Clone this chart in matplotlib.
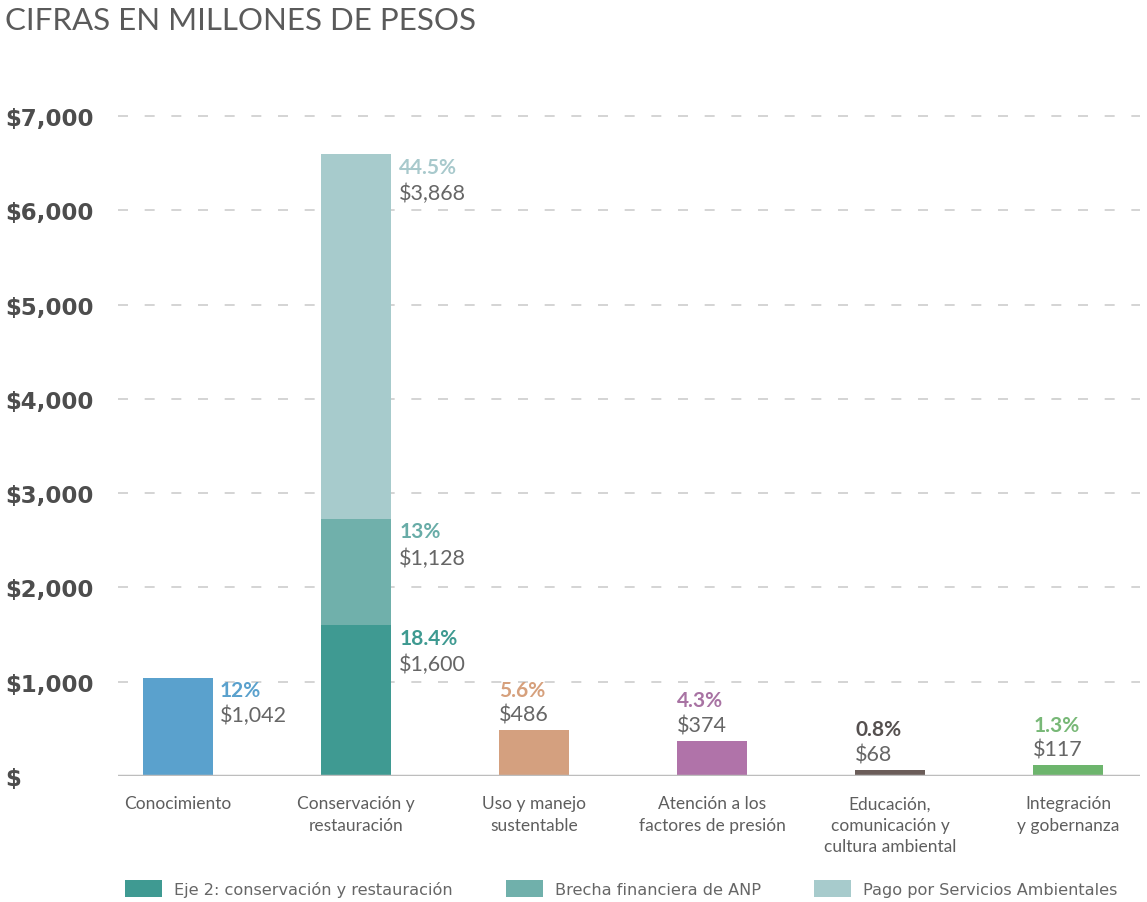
import matplotlib
matplotlib.use("Agg")
import matplotlib.pyplot as plt
import numpy as np

plt.rcParams['font.family'] = ['Lato', 'DejaVu Sans']

# categories and amounts (millones de pesos)
categories = ["Conocimiento", "Conservación y\nrestauración", "Uso y manejo\nsustentable",
              "Atención a los\nfactores de presión", "Educación,\ncomunicación y\ncultura ambiental",
              "Integración\ny gobernanza"]
amounts = [1042, 0, 486, 374, 68, 117]
shares = ["12%", "", "5.6%", "4.3%", "0.8%", "1.3%"]
bar_colors = ["#5aa1cd", "#3f9a92", "#d4a07f", "#b073a9", "#6b5d59", "#6db56d"]
share_colors = ["#5aa1cd", "#3f9a92", "#d6a07c", "#a873a3", "#55504f", "#78b877"]

# stacked components of "Conservación y restauración"
stack_names = ["Eje 2: conservación y restauración", "Brecha financiera de ANP",
               "Pago por Servicios Ambientales"]
stack_amounts = [1600, 1128, 3868]
stack_shares = ["18.4%", "13%", "44.5%"]
stack_colors = ["#3f9a92", "#70b0ab", "#a7cbcc"]
stack_share_colors = ["#3e9a91", "#68aca7", "#a8c9cc"]

yticks = [0, 1000, 2000, 3000, 4000, 5000, 6000, 7000]
yticklabels = ["$", "$1,000", "$2,000", "$3,000", "$4,000", "$5,000", "$6,000", "$7,000"]

fig = plt.figure(figsize=(11.47, 9.03), dpi=100)
ax = fig.add_axes([0.1029, 0.1395, 0.891, 0.7518])

x = np.arange(len(categories))
width = 0.393
value_gray = "#666666"

def money(v):
    return "${:,}".format(v)

for i in range(len(categories)):
    if i == 1:
        continue
    ax.bar(x[i], amounts[i], width, color=bar_colors[i], zorder=3)
    if i == 0:
        # labels to the right of the bar
        ax.annotate(shares[i], (x[i] + width / 2, amounts[i]), xytext=(5, -9),
                    textcoords="offset points", ha="left", va="center",
                    fontsize=15, fontweight="bold", color=share_colors[i])
        ax.annotate(money(amounts[i]), (x[i] + width / 2, amounts[i]), xytext=(5, -27),
                    textcoords="offset points", ha="left", va="center",
                    fontsize=15.5, color=value_gray)
    else:
        # labels stacked above the bar
        ax.annotate(shares[i], (x[i] - width / 2, amounts[i]), xytext=(0, 29),
                    textcoords="offset points", ha="left", va="center",
                    fontsize=15, fontweight="bold", color=share_colors[i])
        ax.annotate(money(amounts[i]), (x[i] - width / 2, amounts[i]), xytext=(0, 11),
                    textcoords="offset points", ha="left", va="center",
                    fontsize=15.5, color=value_gray)

bottom = 0
stack_handles = []
for v, name, c, s, sc in zip(stack_amounts, stack_names, stack_colors, stack_shares, stack_share_colors):
    h = ax.bar(x[1], v, width, bottom=bottom, color=c, label=name, zorder=3)
    stack_handles.append(h)
    top = bottom + v
    ax.annotate(s, (x[1] + width / 2, top), xytext=(6, -9), textcoords="offset points",
                ha="left", va="center", fontsize=15, fontweight="bold", color=sc)
    ax.annotate(money(v), (x[1] + width / 2, top), xytext=(6, -28), textcoords="offset points",
                ha="left", va="center", fontsize=15.5, color=value_gray)
    bottom = top

ax.set_xlim(-0.337, 5.404)
ax.set_ylim(0, 7200)

# dashed grid + solid baseline
for t in yticks[1:]:
    ax.axhline(t, color="#cdcdcd", lw=1.2, linestyle=(0, (6, 10)), zorder=1)
ax.axhline(0, color="#bdbdbd", lw=2.5, zorder=4)

for sp in ax.spines.values():
    sp.set_visible(False)

ax.set_yticks(yticks)
ax.set_yticklabels(yticklabels, fontsize=16.5, fontweight="bold", color="#4d4d4d",
                   family="DejaVu Sans")
ax.tick_params(axis="y", length=0, pad=81)
for lab in ax.get_yticklabels():
    lab.set_horizontalalignment("left")

ax.set_xticks(x)
ax.set_xticklabels(categories, fontsize=12.5, color="#5e5e5e", linespacing=1.4, va="top")
ax.tick_params(axis="x", length=0, pad=14)

fig.text(0.004, 0.977, "CIFRAS EN MILLONES DE PESOS", fontsize=22.5, color="#5a5a5a",
         ha="left", va="center")

fig.legend(handles=stack_handles, labels=stack_names, loc="center left",
           bbox_to_anchor=(0.096, 0.015), ncol=3, frameon=False,
           prop={"family": "DejaVu Sans", "size": 11.6},
           handlelength=2.3, handleheight=1.25, handletextpad=0.75, columnspacing=3.3,
           labelcolor="#666666")

fig.savefig("out.png", dpi=100, facecolor="white")
